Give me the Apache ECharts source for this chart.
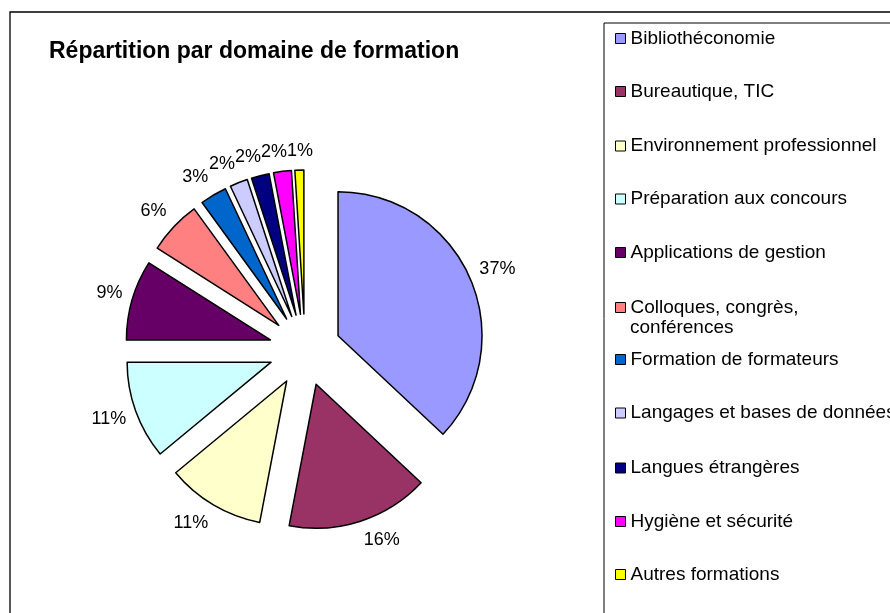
<!DOCTYPE html>
<html><head><meta charset="utf-8">
<script src="https://cdn.jsdelivr.net/npm/echarts@6/dist/echarts.min.js"></script>
<style>html,body{margin:0;padding:0;background:#fff}#c{width:890px;height:613px}</style>
</head><body><div id="c"></div>
<script>
const categories = [
  'Bibliothéconomie',
  'Bureautique, TIC',
  'Environnement professionnel',
  'Préparation aux concours',
  'Applications de gestion',
  'Colloques, congrès, conférences',
  'Formation de formateurs',
  'Langages et bases de données',
  'Langues étrangères',
  'Hygiène et sécurité',
  'Autres formations'
];
const values = [37, 16, 11, 11, 9, 6, 3, 2, 2, 2, 1];
const colors = ['#9999FF', '#993366', '#FFFFCC', '#CCFFFF', '#660066', '#FF8080',
                '#0066CC', '#CCCCFF', '#000080', '#FF00FF', '#FFFF00'];
const legendCenters = [37, 90, 144.5, 197.5, 251, 306, 358, 411.5, 466.5, 520, 573];
const WRAP_NAME = 'Colloques, congrès, conférences';
const WRAP_LINE1 = 'Colloques, congrès,';
const WRAP_LINE2 = 'conférences';

const FONT = '"Liberation Sans", Arial, sans-serif';
const LABEL_SIZE = 18;
const PIE_CENTER = [305, 350], PIE_R = 144, EXPLODE = 36, LINE_LEN = 10;
const chart = echarts.init(document.getElementById('c'), null, {renderer: 'canvas'});

// mid-angle (clockwise from 12 o'clock) of each slice, from the data
const total = values.reduce((a, b) => a + b, 0);
const midAngles = [];
let acc = 0;
values.forEach(v => { midAngles.push((acc + v / 2) / total * 2 * Math.PI); acc += v; });
const labelTexts = values.map(v => Math.round(v / total * 100) + '%');

// horizontal push so that neighbouring labels do not overlap (Excel-like)
const ctx = document.createElement('canvas').getContext('2d');
ctx.font = LABEL_SIZE + 'px ' + FONT;
const pushes = [];
(function () {
  let prev = null;
  const h = LABEL_SIZE;
  midAngles.forEach((a, i) => {
    const s = Math.sin(a), c = -Math.cos(a);
    const w = ctx.measureText(labelTexts[i]).width;
    const d = EXPLODE + PIE_R + LINE_LEN;
    let cx = PIE_CENTER[0] + d * s + Math.sign(s) * w / 2;
    const cy = PIE_CENTER[1] + d * c + Math.max(-1, Math.min(1, 1.5 * c)) * h / 2;
    const nominal = cx;
    if (prev && Math.abs(cy - prev.cy) < h && cx > prev.cx && cx - w / 2 < prev.cx + prev.w / 2) {
      cx = prev.cx + prev.w / 2 + w / 2;
    }
    pushes.push(cx - nominal);
    prev = {cx, cy, w};
  });
})();

function placeLabel(params) {
  const i = params.dataIndex;
  const a = midAngles[i];
  const s = Math.sin(a), c = -Math.cos(a);
  const r = params.labelRect;
  const w = r.width, h = r.height;
  return {
    align: 'center', verticalAlign: 'middle',
    dx: Math.sign(s) * w / 2 + pushes[i],
    dy: Math.max(-1, Math.min(1, 1.5 * c)) * h / 2
  };
}

const legends = categories.map((name, i) => ({
  orient: 'vertical',
  left: 615,
  top: legendCenters[i] - 8,
  padding: 0,
  itemGap: 0,
  itemWidth: 10,
  itemHeight: 10,
  icon: 'rect',
  selectedMode: false,
  data: [name],
  formatter: name === WRAP_NAME ? () => WRAP_LINE1 : '{name}',
  itemStyle: {borderColor: '#000', borderWidth: 1},
  textStyle: {fontSize: 19, color: '#000', fontFamily: FONT}
}));

const option = {
  animation: false,
  backgroundColor: '#fff',
  title: {
    text: 'Répartition par domaine de formation',
    left: 49, top: 40, padding: 0,
    textStyle: {fontSize: 23, fontWeight: 'bold', color: '#000', fontFamily: FONT}
  },
  legend: legends,
  graphic: [
    {type: 'rect', z: -10, shape: {x: 10, y: 12, width: 1000, height: 800},
     style: {fill: 'none', stroke: '#000', lineWidth: 1.3}},
    {type: 'rect', z: -10, shape: {x: 604, y: 23, width: 400, height: 700},
     style: {fill: 'none', stroke: '#000', lineWidth: 1}},
    {type: 'text', x: 630, y: 328,
     style: {text: WRAP_LINE2, fontSize: 19, fill: '#000', fontFamily: FONT,
             verticalAlign: 'middle', align: 'left'}}
  ],
  series: [{
    type: 'pie',
    center: PIE_CENTER,
    radius: PIE_R,
    startAngle: 90,
    clockwise: true,
    selectedMode: 'multiple',
    selectedOffset: EXPLODE,
    avoidLabelOverlap: false,
    emphasis: {disabled: true},
    itemStyle: {borderColor: '#000', borderWidth: 1.5},
    label: {
      show: true, position: 'outside', distanceToLabelLine: 0,
      formatter: p => labelTexts[p.dataIndex],
      fontSize: LABEL_SIZE, color: '#000', fontFamily: FONT
    },
    labelLine: {show: false, length: LINE_LEN, length2: 0},
    labelLayout: placeLabel,
    data: categories.map((n, i) => ({
      name: n, value: values[i], selected: true,
      itemStyle: {color: colors[i]}
    }))
  }]
};
chart.setOption(option);
</script>
</body></html>
